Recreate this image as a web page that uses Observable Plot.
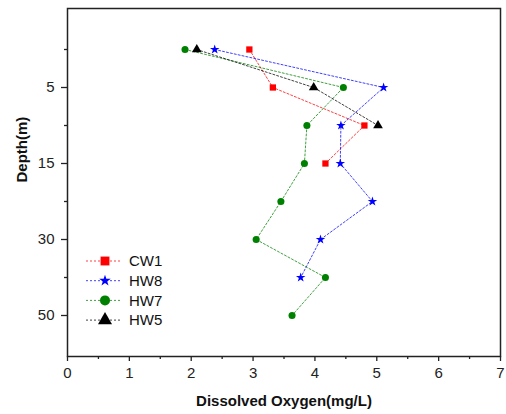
<!DOCTYPE html>
<html>
<head>
<meta charset="utf-8">
<script src="https://cdn.jsdelivr.net/npm/d3@7"></script>
<script src="https://cdn.jsdelivr.net/npm/@observablehq/plot@0.6"></script>
<style>
  body { margin: 0; background: #fff; font-family: "Liberation Sans", Arial, sans-serif; }
  #wrap { position: relative; width: 506px; height: 414px; }
  #legend { position: absolute; left: 84px; top: 250px; }
</style>
</head>
<body>
<div id="wrap"><div id="legend"></div></div>
<script>
const depths = ["1", "5", "10", "15", "20", "30", "40", "50"];
const labeledDepths = ["5", "15", "30", "50"];
const seriesNames = ["CW1", "HW8", "HW7", "HW5"];
const seriesColors = ["#ff0000", "#0000ff", "#008000", "#000000"];
const seriesSymbols = ["square", "star", "circle", "triangle"];
const cw1 = [2.94, 3.32, 4.80, 4.17];
const hw8 = [2.38, 5.11, 4.42, 4.41, 4.93, 4.09, 3.77];
const hw7 = [1.90, 4.46, 3.87, 3.83, 3.45, 3.05, 4.17, 3.63];
const hw5 = [2.09, 3.98, 5.02];
const xTicks = [0, 1, 2, 3, 4, 5, 6, 7];
const xMinor = [0.5, 1.5, 2.5, 3.5, 4.5, 5.5, 6.5];

const values = [cw1, hw8, hw7, hw5];
const rows = [];
values.forEach((arr, i) => arr.forEach((v, j) => rows.push({series: seriesNames[i], depth: depths[j], value: v})));
const symbolSize = {square: 5, star: 3.6, circle: 5, triangle: 5.2};

const color = {domain: seriesNames, range: seriesColors};
const symbol = {domain: seriesNames, range: seriesSymbols};

const chart = Plot.plot({
  width: 506,
  height: 414,
  marginLeft: 67,
  marginRight: 6,
  marginTop: 8,
  marginBottom: 58,
  style: {fontFamily: "'Liberation Sans', Arial, sans-serif", fontSize: "14px", color: "#222", background: "#fff"},
  x: {domain: [0, 7]},
  y: {type: "point", domain: depths, padding: 1},
  color,
  symbol,
  marks: [
    Plot.line(rows, {x: "value", y: "depth", z: "series", stroke: "series", strokeWidth: 1, strokeDasharray: "2,2", strokeOpacity: 0.75}),
    Plot.dot(rows, {x: "value", y: "depth", fill: "series", symbol: "series", r: d => symbolSize[seriesSymbols[seriesNames.indexOf(d.series)]], stroke: "none"}),
    Plot.frame({stroke: "#222", strokeWidth: 1.5}),
    Plot.axisX({ticks: xTicks, tickSize: 5, tickPadding: 6, tickFormat: d => String(d), stroke: "#222", strokeWidth: 1.3, fontSize: 15, label: null}),
    Plot.axisX({ticks: xMinor, tickSize: 3, tickFormat: () => "", stroke: "#222", strokeWidth: 1.3, label: null}),
    Plot.axisY({ticks: labeledDepths, tickSize: 6, tickPadding: 7, stroke: "#222", strokeWidth: 1.3, fontSize: 15, label: null}),
    Plot.axisY({ticks: depths.filter(d => !labeledDepths.includes(d)), tickSize: 3, tickFormat: () => "", stroke: "#222", strokeWidth: 1.3, label: null}),
    Plot.text(["Dissolved Oxygen(mg/L)"], {frameAnchor: "bottom", dy: 45, fontWeight: "bold", fontSize: 15, fill: "#111", lineAnchor: "middle", text: d => d}),
    Plot.text(["Depth(m)"], {frameAnchor: "left", dx: -45, rotate: -90, fontWeight: "bold", fontSize: 15, fill: "#111", text: d => d})
  ]
});
document.getElementById("wrap").prepend(chart);

// legend
const lg = d3.select("#legend").append("svg").attr("width", 90).attr("height", 84)
  .style("font-family", "'Liberation Sans', Arial, sans-serif");
const sym = {square: d3.symbolSquare, star: d3.symbolStar, circle: d3.symbolCircle, triangle: d3.symbolTriangle};
seriesNames.forEach((name, i) => {
  const g = lg.append("g").attr("transform", `translate(0, ${11 + i * 19.7})`);
  g.append("line").attr("x1", 2).attr("x2", 38).attr("y1", 0).attr("y2", 0)
    .attr("stroke", seriesColors[i]).attr("stroke-width", 1).attr("stroke-dasharray", "2,2").attr("stroke-opacity", 0.75);
  const r = symbolSize[seriesSymbols[i]];
  g.append("path").attr("transform", "translate(21,0)")
    .attr("d", d3.symbol(sym[seriesSymbols[i]], Math.PI * r * r)()).attr("fill", seriesColors[i]);
  g.append("text").attr("x", 45).attr("y", 0).attr("dy", "0.35em").attr("font-size", 15).attr("fill", "#111").text(name);
});
</script>
</body>
</html>
